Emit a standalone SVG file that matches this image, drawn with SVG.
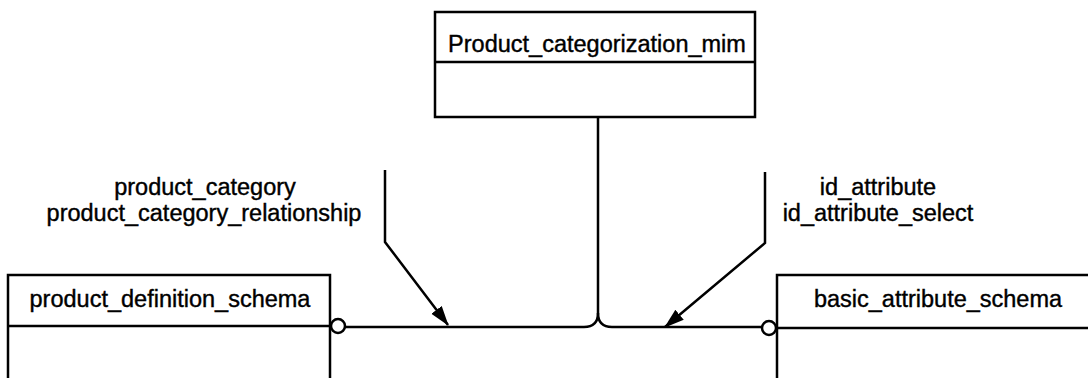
<svg xmlns="http://www.w3.org/2000/svg" width="1088" height="378" viewBox="0 0 1088 378">
<style>
.box{fill:#fff;stroke:#000;stroke-width:2.5}
.ln{fill:none;stroke:#000;stroke-width:2.5}
.t{font-family:"Liberation Sans",Arial,sans-serif;font-size:23.5px;fill:#000;stroke:#000;stroke-width:0.4;text-anchor:middle}
.c{fill:#fff;stroke:#000;stroke-width:2.5}
</style>
<defs>
<marker id="arr" markerUnits="userSpaceOnUse" markerWidth="20" markerHeight="14" refX="19" refY="6.5" orient="auto">
<path d="M0,0 L20,6.5 L0,13 Z" fill="#000"/>
</marker>
</defs>
<g id="connectors">
<path class="ln" d="M598,117 V313 Q598,327 584,327 H345"/>
<path class="ln" d="M598,313 Q598,327 612,327 H762"/>
<path class="ln" d="M385,170 V242 L448,325" marker-end="url(#arr)"/>
<path class="ln" d="M765,172 V243 L665,327" marker-end="url(#arr)"/>
<text class="t" x="205" y="195">product_category</text>
<text class="t" x="204" y="221">product_category_relationship</text>
<text class="t" x="878" y="195">id_attribute</text>
<text class="t" x="878" y="221">id_attribute_select</text>
</g>
<g id="Product_categorization_mim">
<rect class="box" x="435" y="12" width="320" height="105"/>
<line class="ln" x1="435" y1="62" x2="755" y2="62"/>
<text class="t" x="597" y="52">Product_categorization_mim</text>
</g>
<g id="product_definition_schema">
<rect class="box" x="8" y="275" width="322" height="120"/>
<line class="ln" x1="8" y1="326" x2="330" y2="326"/>
<text class="t" x="170" y="307">product_definition_schema</text>
<circle class="c" cx="338" cy="326" r="7"/>
</g>
<g id="basic_attribute_schema">
<rect class="box" x="777" y="275" width="330" height="120"/>
<line class="ln" x1="777" y1="328" x2="1100" y2="328"/>
<text class="t" x="938" y="307">basic_attribute_schema</text>
<circle class="c" cx="769" cy="328" r="7"/>
</g>
</svg>
